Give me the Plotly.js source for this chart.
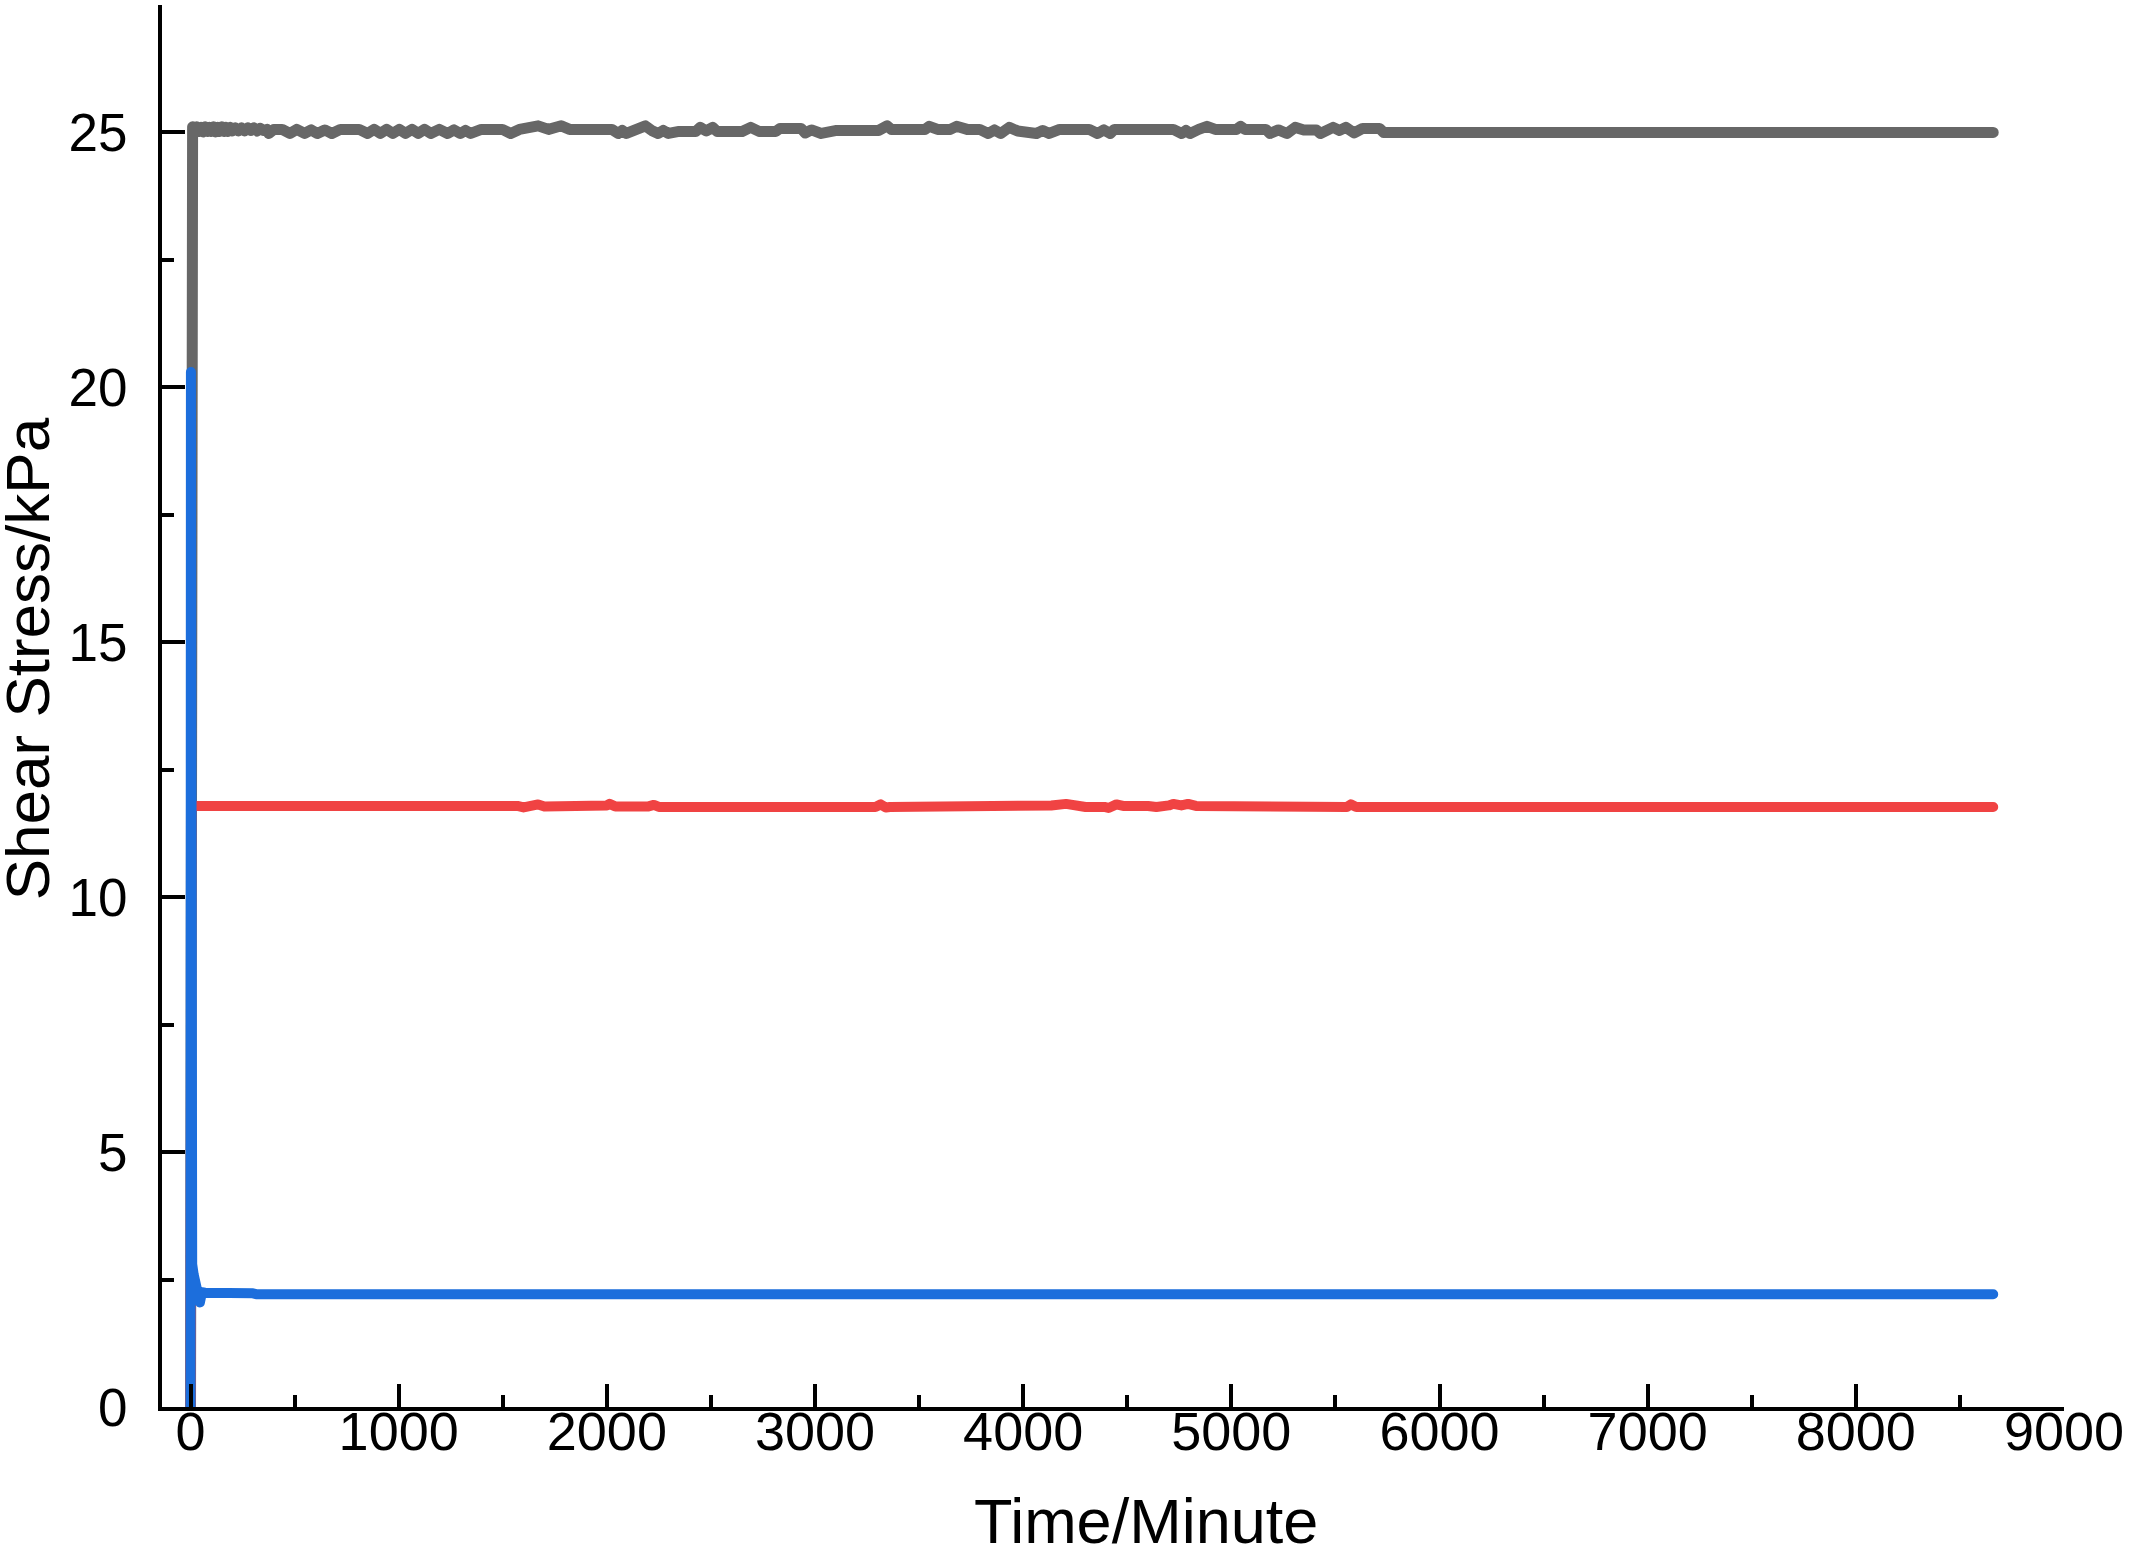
<!DOCTYPE html>
<html>
<head>
<meta charset="utf-8">
<script src="https://cdn.plot.ly/plotly-3.0.1.min.js"></script>
<style>
  html, body { margin: 0; padding: 0; background: #fff; }
  #chart { width: 2129px; height: 1548px; }
  #chart .scatterlayer .js-line { stroke-linejoin: round !important; stroke-linecap: round !important; }
</style>
</head>
<body>
<div id="chart"></div>
<script>
// values (time in minutes, shear stress in kPa)
var grayX = [0, 4, 10, 20, 30, 40, 50, 60, 70, 80, 90, 100, 110, 120, 130, 140, 150, 160, 170, 180, 190, 200, 215, 230, 245, 260, 275, 290, 305, 320, 335, 350, 366, 376, 400, 440, 477, 510, 548, 580, 609, 645, 679, 720, 770, 810, 851, 882, 912, 942, 972, 1003, 1033, 1064, 1094, 1124, 1154, 1195, 1235, 1266, 1296, 1321, 1346, 1397, 1498, 1538, 1580, 1620, 1670, 1720, 1781, 1821, 2024, 2054, 2074, 2094, 2140, 2185, 2215, 2246, 2271, 2296, 2347, 2428, 2448, 2478, 2509, 2529, 2650, 2691, 2731, 2812, 2832, 2933, 2953, 2983, 3030, 3104, 3306, 3346, 3367, 3528, 3549, 3589, 3650, 3680, 3731, 3791, 3832, 3862, 3892, 3933, 3973, 4034, 4064, 4094, 4125, 4175, 4317, 4357, 4388, 4418, 4438, 4721, 4761, 4782, 4802, 4843, 4883, 4923, 5024, 5045, 5065, 5166, 5186, 5226, 5267, 5307, 5348, 5408, 5428, 5489, 5520, 5550, 5590, 5631, 5712, 5732, 8660];
var grayY = [0, 25.06, 25.11, 25.01, 25.11, 25.02, 25.1, 25.01, 25.11, 25.02, 25.1, 25.02, 25.11, 25.01, 25.1, 25.02, 25.11, 25.02, 25.1, 25.02, 25.1, 25.03, 25.09, 25.03, 25.09, 25.03, 25.09, 25.04, 25.09, 25.03, 25.08, 25.04, 25.06, 24.98, 25.06, 25.06, 24.98, 25.06, 24.98, 25.05, 24.98, 25.05, 24.98, 25.06, 25.06, 25.06, 24.98, 25.06, 24.98, 25.06, 24.98, 25.06, 24.98, 25.06, 24.98, 25.06, 24.98, 25.06, 24.98, 25.05, 24.98, 25.04, 24.98, 25.06, 25.06, 24.98, 25.06, 25.08, 25.13, 25.06, 25.13, 25.06, 25.06, 24.98, 25.04, 24.98, 25.07, 25.13, 25.04, 24.98, 25.04, 24.98, 25.02, 25.02, 25.1, 25.03, 25.1, 25.02, 25.02, 25.1, 25.02, 25.02, 25.08, 25.08, 24.99, 25.05, 24.98, 25.04, 25.04, 25.13, 25.06, 25.06, 25.12, 25.06, 25.06, 25.12, 25.06, 25.06, 24.98, 25.05, 24.98, 25.1, 25.03, 25.03, 24.98, 25.04, 24.98, 25.06, 25.06, 24.98, 25.05, 24.98, 25.06, 25.06, 24.98, 25.04, 24.98, 25.06, 25.12, 25.06, 25.06, 25.12, 25.06, 25.06, 24.98, 25.05, 24.98, 25.1, 25.05, 25.05, 24.98, 25.1, 25.04, 25.1, 24.99, 25.08, 25.08, 25.0, 25.0];

var redX = [0, 4, 22, 305, 320, 700, 730, 760, 835, 861, 890, 1500, 1538, 1570, 1600, 1640, 1670, 1700, 1850, 1880, 2000, 2013, 2040, 2200, 2226, 2250, 2650, 2680, 2810, 2830, 2980, 3010, 3104, 3130, 3290, 3316, 3340, 3360, 3660, 3680, 3700, 4100, 4135, 4206, 4276, 4300, 4390, 4410, 4448, 4480, 4600, 4640, 4700, 4721, 4760, 4792, 4830, 4880, 4920, 4980, 5004, 5085, 5110, 5220, 5236, 5260, 5555, 5574, 5600, 8660];
var redY = [0, 11.79, 11.79, 11.79, 11.77, 11.77, 11.81, 11.77, 11.77, 11.81, 11.77, 11.77, 11.81, 11.79, 11.76, 11.79, 11.82, 11.78, 11.78, 11.8, 11.8, 11.83, 11.78, 11.78, 11.81, 11.77, 11.77, 11.79, 11.79, 11.77, 11.77, 11.81, 11.81, 11.77, 11.77, 11.82, 11.76, 11.77, 11.77, 11.81, 11.77, 11.77, 11.8, 11.83, 11.79, 11.77, 11.77, 11.75, 11.82, 11.79, 11.79, 11.77, 11.8, 11.83, 11.8, 11.83, 11.79, 11.79, 11.77, 11.77, 11.8, 11.8, 11.77, 11.77, 11.8, 11.77, 11.77, 11.82, 11.77, 11.77];

var blueX = [0, 2, 4, 8, 15, 25, 35, 45, 55, 70, 300, 320, 8660];
var blueY = [0, 20.3, 3.2, 2.8, 2.6, 2.45, 2.2, 2.05, 2.25, 2.24, 2.23, 2.21, 2.21];

var xTicks = [0, 1000, 2000, 3000, 4000, 5000, 6000, 7000, 8000, 9000];
var yTicks = [0, 5, 10, 15, 20, 25];

var fnt = 'Liberation Sans, Arial, sans-serif';

var data = [
  { x: grayX, y: grayY, type: 'scatter', mode: 'lines', name: 'gray',
    line: { color: '#676767', width: 11 } },
  { x: redX, y: redY, type: 'scatter', mode: 'lines', name: 'red',
    line: { color: '#F04343', width: 10 } },
  { x: blueX, y: blueY, type: 'scatter', mode: 'lines', name: 'blue',
    line: { color: '#1C6EDC', width: 10 } }
];

var layout = {
  width: 2129,
  height: 1548,
  margin: { l: 162, r: 65, t: 5, b: 141 },
  paper_bgcolor: '#fff',
  plot_bgcolor: '#fff',
  showlegend: false,
  font: { family: fnt, size: 54, color: '#000' },
  xaxis: {
    range: [-137, 9000],
    tickvals: xTicks,
    ticktext: xTicks.map(String),
    ticks: 'inside', ticklen: 23, tickwidth: 4, tickcolor: '#000',
    minor: { dtick: 500, tick0: 0, ticks: 'inside', ticklen: 12, tickwidth: 4, tickcolor: '#000' },
    showline: true, linewidth: 4, linecolor: '#000',
    showgrid: false, zeroline: false,
    ticklabelstandoff: -26,
    tickfont: { family: fnt, size: 54, color: '#000' }
  },
  yaxis: {
    range: [0, 27.5],
    tickvals: yTicks,
    ticktext: yTicks.map(String),
    ticks: 'inside', ticklen: 23, tickwidth: 4, tickcolor: '#000',
    minor: { dtick: 2.5, tick0: 0, ticks: 'inside', ticklen: 12, tickwidth: 4, tickcolor: '#000' },
    showline: true, linewidth: 4, linecolor: '#000',
    showgrid: false, zeroline: false,
    ticklabelstandoff: 20,
    tickfont: { family: fnt, size: 53, color: '#000' }
  },
  annotations: [
    { text: 'Time/Minute', xref: 'paper', yref: 'paper', x: 0.5176, y: -0.0814,
      xanchor: 'center', yanchor: 'middle', showarrow: false,
      font: { family: fnt, size: 63, color: '#000' } },
    { text: 'Shear Stress/kPa', xref: 'paper', yref: 'paper', x: -0.071, y: 0.534,
      xanchor: 'center', yanchor: 'middle', showarrow: false, textangle: -90,
      font: { family: fnt, size: 62, color: '#000' } }
  ]
};

Plotly.newPlot('chart', data, layout, { displayModeBar: false, staticPlot: true });
</script>
</body>
</html>
